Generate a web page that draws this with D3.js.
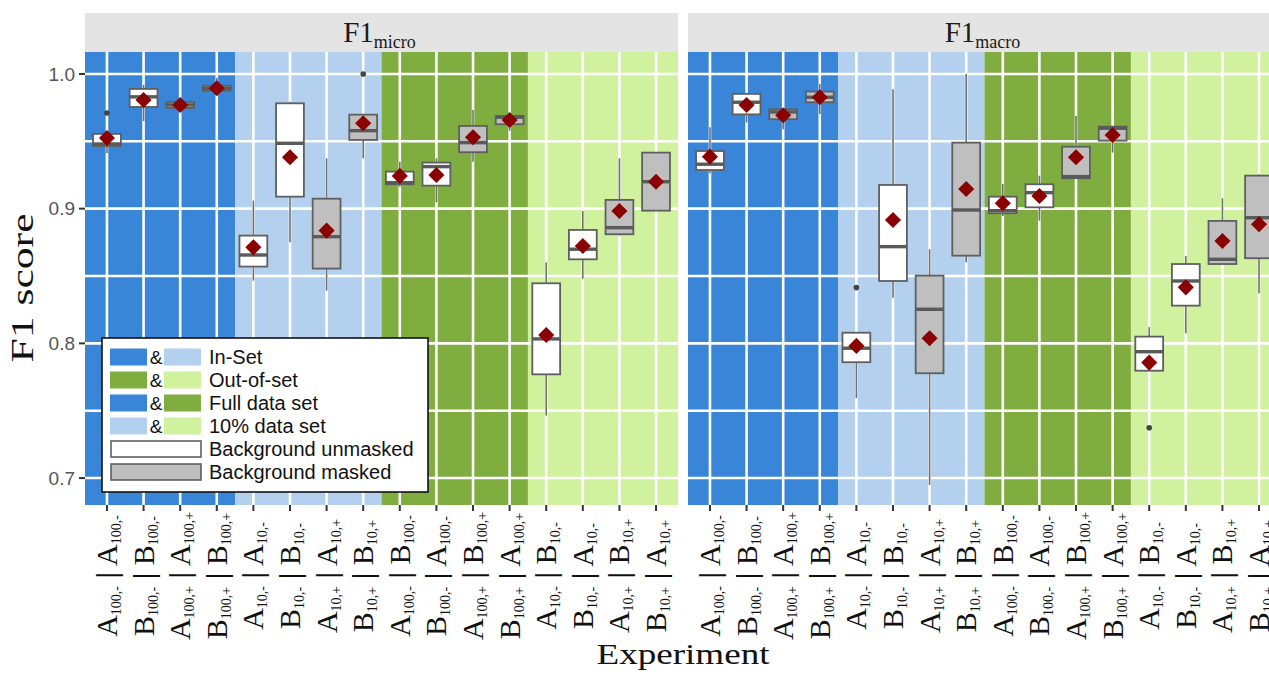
<!DOCTYPE html>
<html><head><meta charset="utf-8">
<script src="https://cdn.jsdelivr.net/npm/d3@7"></script>
<style>body{margin:0;background:#fff}svg{display:block}</style>
</head><body><div id="c"></div>
<script>
// ---------- data ----------
const panels = ["micro", "macro"];
const trainSet = ["A","B","A","B","A","B","A","B","A","B","A","B","A","B","A","B"];
const testSet  = ["A","B","A","B","A","B","A","B","B","A","B","A","B","A","B","A"];
const subs = ["100,-","100,-","100,+","100,+","10,-","10,-","10,+","10,+",
              "100,-","100,-","100,+","100,+","10,-","10,-","10,+","10,+"];
const masked = [0,0,1,1,0,0,1,1,0,0,1,1,0,0,1,1];
const yTicks = [0.7, 0.8, 0.9, 1.0];
const yMinor = [0.75, 0.85, 0.95];

const microLo   = [0.9413,0.965,0.973,0.986,0.8466,0.875,0.8391,0.9374,0.9163,0.9047,0.9349,0.9579,0.7463,0.848,0.880,0.8985];
const microQ1   = [0.9465,0.9755,0.9748,0.9876,0.857,0.9089,0.8555,0.951,0.9181,0.9171,0.9419,0.9627,0.777,0.8624,0.881,0.8985];
const microMed  = [0.948,0.983,0.977,0.9894,0.8656,0.9485,0.8792,0.9579,0.9193,0.9312,0.949,0.9679,0.8033,0.8699,0.8859,0.92];
const microQ3   = [0.9555,0.9889,0.9792,0.9913,0.880,0.9782,0.9074,0.9698,0.9275,0.9342,0.9614,0.9688,0.8446,0.8842,0.9065,0.9416];
const microHi   = [0.957,0.9918,0.981,0.997,0.906,0.9794,0.9374,0.970,0.9349,0.9374,0.9733,0.970,0.8602,0.8983,0.9374,0.9416];
const microMean = [0.9525,0.9807,0.977,0.9894,0.8713,0.9382,0.8837,0.9634,0.9243,0.925,0.953,0.9658,0.8062,0.8723,0.8983,0.92];
const microOut  = [[0.971],[],[],[],[],[],[],[1.0],[],[],[],[],[],[],[],[]];

const macroLo   = [0.9263,0.9639,0.959,0.9703,0.7593,0.8339,0.6949,0.8602,0.8946,0.8911,0.9226,0.9416,0.7797,0.8075,0.8589,0.8372];
const macroQ1   = [0.9287,0.97,0.9664,0.979,0.786,0.8463,0.7778,0.8651,0.8966,0.901,0.9226,0.9505,0.7797,0.828,0.8589,0.8632];
const macroMed  = [0.933,0.979,0.9718,0.9827,0.7964,0.8718,0.8253,0.899,0.8985,0.9119,0.9238,0.9597,0.7938,0.8463,0.8624,0.8933];
const macroQ3   = [0.9428,0.9852,0.9738,0.9869,0.8079,0.9176,0.8503,0.949,0.9089,0.9181,0.946,0.9609,0.805,0.8589,0.8909,0.9245];
const macroHi   = [0.9604,0.986,0.974,0.9926,0.808,0.9886,0.8699,1.0,0.9183,0.9245,0.9688,0.961,0.812,0.8649,0.9077,0.9255];
const macroMean = [0.9386,0.977,0.9693,0.9827,0.7981,0.8916,0.8038,0.9146,0.904,0.9094,0.9382,0.9547,0.7857,0.8416,0.876,0.8884];
const macroOut  = [[],[],[],[],[0.8414],[],[],[],[],[],[],[],[0.7374],[],[],[]];

const bandColors = ["#3986d8", "#b3d1ef", "#80ad3f", "#d0f19e"];
const bandStarts = [-0.6, 3.5, 7.5, 11.5];
const bandEnds   = [3.5, 7.5, 11.5, 15.6];

const legendRows = [
  {a: "#3986d8", b: "#b3d1ef", t: "In-Set"},
  {a: "#80ad3f", b: "#d0f19e", t: "Out-of-set"},
  {a: "#3986d8", b: "#80ad3f", t: "Full data set"},
  {a: "#b3d1ef", b: "#d0f19e", t: "10% data set"},
  {fill: "#ffffff", t: "Background unmasked"},
  {fill: "#bebebe", t: "Background masked"}
];

const panelData = {
  micro: {lo: microLo, q1: microQ1, med: microMed, q3: microQ3, hi: microHi, mean: microMean, out: microOut},
  macro: {lo: macroLo, q1: macroQ1, med: macroMed, q3: macroQ3, hi: macroHi, mean: macroMean, out: macroOut}
};

// ---------- layout ----------
const W = 1269, H = 675;
const plotTop = 52, plotBottom = 505;
const panelLefts = [85, 688];
const panelW = 593;
const serif = "'Liberation Serif', 'DejaVu Serif', serif";
const sans = "'Liberation Sans', Arial, sans-serif";

const svg = d3.select("#c").append("svg").attr("width", W).attr("height", H);
const y = d3.scaleLinear().domain([0.68, 1.0163]).range([plotBottom, plotTop]);

panels.forEach((p, pi) => {
  const L = panelLefts[pi];
  const x = d3.scaleLinear().domain([-0.6, 15.6]).range([L, L + panelW]);
  const step = x(1) - x(0);
  const bw = step * 0.76;
  const D = panelData[p];
  const g = svg.append("g");
  const idx = d3.range(16);

  // strip
  g.append("rect").attr("x", L).attr("y", 13).attr("width", panelW).attr("height", plotTop - 13).attr("fill", "#e4e4e4");
  const st = g.append("text").attr("x", L + panelW / 2 - 2).attr("y", 42).attr("text-anchor", "middle")
    .attr("font-family", serif).attr("font-size", 29).attr("fill", "#1a1a1a");
  st.append("tspan").text("F1");
  st.append("tspan").attr("font-size", 18).attr("dy", 6).text(p);

  // bands
  g.selectAll(".band").data(bandColors).join("rect")
    .attr("x", (d, i) => x(bandStarts[i])).attr("width", (d, i) => x(bandEnds[i]) - x(bandStarts[i]))
    .attr("y", plotTop).attr("height", plotBottom - plotTop).attr("fill", d => d);

  // grid
  g.selectAll(".hg").data(yTicks.concat(yMinor)).join("line")
    .attr("x1", L).attr("x2", L + panelW).attr("y1", d => y(d)).attr("y2", d => y(d))
    .attr("stroke", "#fff").attr("stroke-width", 2.6);
  g.selectAll(".vg").data(idx).join("line")
    .attr("x1", d => x(d)).attr("x2", d => x(d)).attr("y1", plotTop).attr("y2", plotBottom)
    .attr("stroke", "#fff").attr("stroke-width", 2.6);

  // whiskers
  g.selectAll(".wl").data(idx).join("line")
    .attr("x1", d => x(d)).attr("x2", d => x(d)).attr("y1", d => y(D.lo[d])).attr("y2", d => y(D.q1[d]))
    .attr("stroke", "#707070").attr("stroke-width", 1.6);
  g.selectAll(".wh").data(idx).join("line")
    .attr("x1", d => x(d)).attr("x2", d => x(d)).attr("y1", d => y(D.hi[d])).attr("y2", d => y(D.q3[d]))
    .attr("stroke", "#707070").attr("stroke-width", 1.6);
  // boxes
  g.selectAll(".bx").data(idx).join("rect")
    .attr("x", d => x(d) - bw / 2).attr("width", bw)
    .attr("y", d => y(D.q3[d])).attr("height", d => Math.max(1, y(D.q1[d]) - y(D.q3[d])))
    .attr("fill", d => masked[d] ? "#bfbfbf" : "#ffffff")
    .attr("stroke", "#5f5f5f").attr("stroke-width", 1.8);
  g.selectAll(".md").data(idx).join("line")
    .attr("x1", d => x(d) - bw / 2).attr("x2", d => x(d) + bw / 2)
    .attr("y1", d => y(D.med[d])).attr("y2", d => y(D.med[d]))
    .attr("stroke", "#5a5a5a").attr("stroke-width", 3.4);
  // outliers
  const outs = [];
  idx.forEach(i => D.out[i].forEach(v => outs.push([i, v])));
  g.selectAll(".ol").data(outs).join("circle")
    .attr("cx", d => x(d[0])).attr("cy", d => y(d[1])).attr("r", 2.8).attr("fill", "#444");
  // means
  const sym = d3.symbol(d3.symbolSquare, 130);
  g.selectAll(".mn").data(idx).join("path")
    .attr("d", sym).attr("transform", d => `translate(${x(d)},${y(D.mean[d])}) rotate(45)`)
    .attr("fill", "#8b0000");

  // x ticks
  g.selectAll(".xt").data(idx).join("line")
    .attr("x1", d => x(d)).attr("x2", d => x(d)).attr("y1", plotBottom).attr("y2", plotBottom + 6)
    .attr("stroke", "#333").attr("stroke-width", 2);
  // x labels
  idx.forEach(i => {
    const t = g.append("text")
      .attr("transform", `translate(${x(i) + 10},576) rotate(-90)`)
      .attr("text-anchor", "middle").attr("font-family", serif).attr("font-size", 30).attr("fill", "#111");
    t.append("tspan").text(trainSet[i]);
    t.append("tspan").attr("font-size", 14).attr("dy", 4).text(subs[i]);
    t.append("tspan").attr("dy", -4).text(" ");
    t.append("tspan").attr("font-weight", "bold").text("|");
    t.append("tspan").text(" " + testSet[i]);
    t.append("tspan").attr("font-size", 14).attr("dy", 4).text(subs[i]);
  });
});

// y axis
const ya = svg.append("g");
ya.selectAll("line").data(yTicks).join("line")
  .attr("x1", 79).attr("x2", 85).attr("y1", d => y(d)).attr("y2", d => y(d))
  .attr("stroke", "#333").attr("stroke-width", 2);
ya.selectAll("text").data(yTicks).join("text")
  .attr("x", 75).attr("y", d => y(d)).attr("dy", "0.36em").attr("text-anchor", "end")
  .attr("font-family", sans).attr("font-size", 19).attr("fill", "#555")
  .text(d => d3.format(".1f")(d));

// axis titles
svg.append("text").attr("transform", "translate(33,288) rotate(-90)").attr("text-anchor", "middle")
  .attr("font-family", serif).attr("font-size", 32).attr("fill", "#111")
  .attr("textLength", 149).attr("lengthAdjust", "spacingAndGlyphs").text("F1 score");
svg.append("text").attr("x", 683).attr("y", 664).attr("text-anchor", "middle")
  .attr("font-family", serif).attr("font-size", 30).attr("fill", "#111")
  .attr("textLength", 173).attr("lengthAdjust", "spacingAndGlyphs").text("Experiment");

// legend
const lg = svg.append("g");
lg.append("rect").attr("x", 102).attr("y", 338).attr("width", 326).attr("height", 154)
  .attr("fill", "#fff").attr("stroke", "#111").attr("stroke-width", 1.6);
legendRows.forEach((r, i) => {
  const cy = 357 + i * 23;
  if (r.a) {
    lg.append("rect").attr("x", 110).attr("y", cy - 8.5).attr("width", 37).attr("height", 17).attr("fill", r.a);
    lg.append("text").attr("x", 156).attr("y", cy).attr("dy", "0.36em").attr("text-anchor", "middle")
      .attr("font-family", sans).attr("font-size", 19).attr("fill", "#111").text("&");
    lg.append("rect").attr("x", 164).attr("y", cy - 8.5).attr("width", 37).attr("height", 17).attr("fill", r.b);
  } else {
    lg.append("rect").attr("x", 111).attr("y", cy - 8).attr("width", 90).attr("height", 16)
      .attr("fill", r.fill).attr("stroke", "#555").attr("stroke-width", 1.5);
  }
  lg.append("text").attr("x", 209).attr("y", cy).attr("dy", "0.36em")
    .attr("font-family", sans).attr("font-size", 20).attr("fill", "#111").text(r.t);
});
</script></body></html>
